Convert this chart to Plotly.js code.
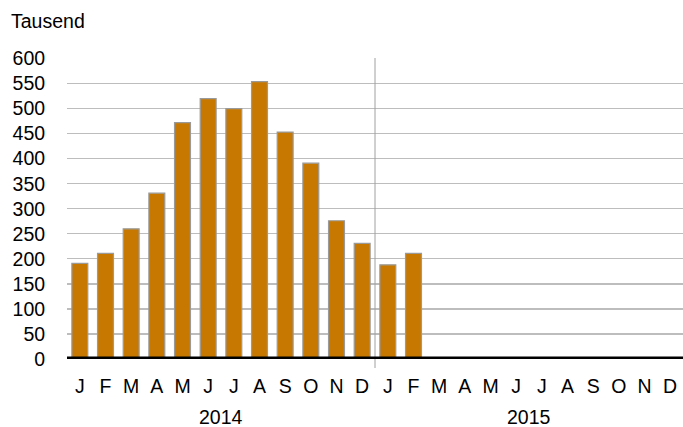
<!DOCTYPE html>
<html><head><meta charset="utf-8">
<script src="https://cdn.plot.ly/plotly-3.0.1.min.js"></script>
<style>html,body{margin:0;padding:0;background:#fff}#chart{width:683px;height:427px}</style>
</head><body><div id="chart"></div>
<script>
var months = ["J","F","M","A","M","J","J","A","S","O","N","D","J","F","M","A","M","J","J","A","S","O","N","D"];
var years = ["2014","2015"];
var values = [191,211,260,331,472,520,500,554,453,391,276,231,188,211,null,null,null,null,null,null,null,null,null,null];
var yTicks = [0,50,100,150,200,250,300,350,400,450,500,550,600];

var xIdx = months.map(function(_, i){ return i; });
var trace = {
  type: 'bar', x: xIdx, y: values,
  marker: {color: '#c77800', line: {color: '#9a9a9a', width: 1.2}},
  hoverinfo: 'skip'
};
var font = {family: 'Liberation Sans, Arial, sans-serif', size: 19.5, color: '#000'};
var layout = {
  width: 683, height: 427,
  margin: {l: 67, r: 0, t: 58, b: 68},
  paper_bgcolor: '#fff', plot_bgcolor: '#fff',
  showlegend: false, bargap: 0.38,
  font: font,
  xaxis: {
    range: [-0.5, 23.5], tickmode: 'array', tickvals: xIdx, ticktext: months,
    showgrid: false, zeroline: false, showline: false,
    ticks: 'outside', ticklen: 10, tickcolor: 'rgba(0,0,0,0)', tickfont: font
  },
  yaxis: {
    range: [0, 601], tickmode: 'array', tickvals: yTicks,
    showgrid: true, gridcolor: '#bdbdbd', gridwidth: 1.3,
    zeroline: false, showline: false,
    ticks: 'outside', ticklen: 17, tickcolor: 'rgba(0,0,0,0)', tickfont: font
  },
  shapes: [
    {type: 'line', xref: 'x', yref: 'paper', x0: 11.5, x1: 11.5, y0: 1, y1: -0.03, line: {color: '#a0a0a0', width: 1}},
    {type: 'line', xref: 'paper', yref: 'y', x0: 0, x1: 1, y0: 0, y1: 0, line: {color: '#000', width: 5}, layer: 'above'}
  ],
  annotations: [
    {text: 'Tausend', xref: 'paper', yref: 'paper', x: 0, y: 1, xanchor: 'left', yanchor: 'bottom', showarrow: false, font: font, xshift: -58, yshift: 24},
    {text: years[0], xref: 'x', yref: 'paper', x: 5.5, y: 0, yanchor: 'top', showarrow: false, font: font, yshift: -45},
    {text: years[1], xref: 'x', yref: 'paper', x: 17.5, y: 0, yanchor: 'top', showarrow: false, font: font, yshift: -45}
  ]
};
Plotly.newPlot('chart', [trace], layout, {displayModeBar: false, staticPlot: true});
</script></body></html>
